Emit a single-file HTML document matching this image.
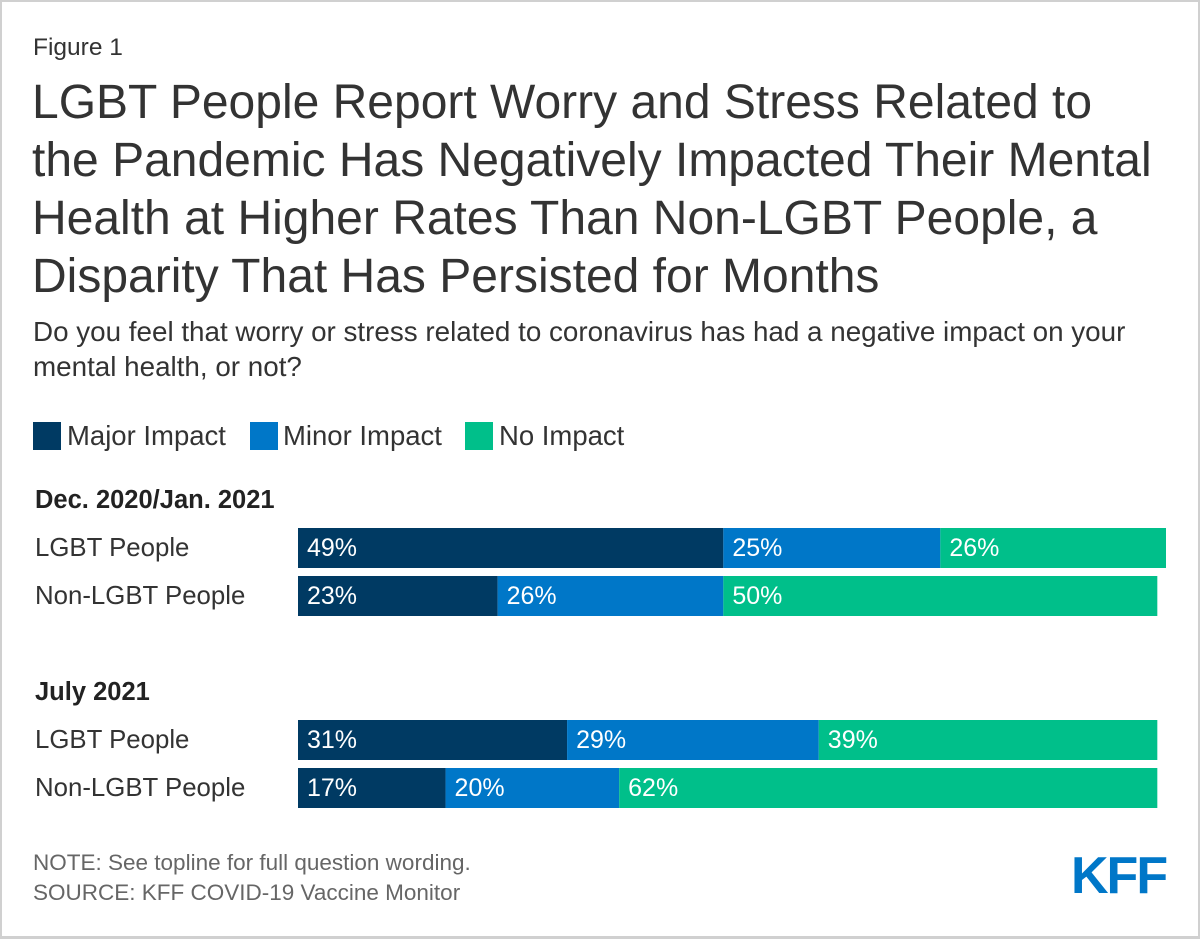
<!DOCTYPE html>
<html><head><meta charset="utf-8"><style>
body{margin:0;width:1200px;height:938px;overflow:hidden;background:#fff;font-family:"Liberation Sans",Arial,sans-serif;color:#333}
.frame{position:absolute;left:0;top:0;width:1196px;height:934px;border:2px solid #d0d0d0;border-right-width:3px;border-bottom-width:3px;box-sizing:content-box}
.t{position:absolute;white-space:nowrap}
.sq{position:absolute;width:28px;height:28px}
</style></head><body>
<div class="frame"></div>
<div class="t" style="left:33px;top:34px;font-size:24.5px">Figure 1</div>
<div class="t" style="left:32px;top:74px;font-size:48px;line-height:58px;color:#333">LGBT People Report Worry and Stress Related to<br>the Pandemic Has Negatively Impacted Their Mental<br>Health at Higher Rates Than Non-LGBT People, a<br>Disparity That Has Persisted for Months</div>
<div class="t" style="left:33px;top:314px;font-size:27.8px;line-height:35px">Do you feel that worry or stress related to coronavirus has had a negative impact on your<br>mental health, or not?</div>
<div>
<div class="sq" style="left:33px;top:422px;background:#003a63"></div>
<div class="t" style="left:67px;top:420px;font-size:27.5px">Major Impact</div>
<div class="sq" style="left:250px;top:422px;background:#0077c8"></div>
<div class="t" style="left:283px;top:420px;font-size:27.5px">Minor Impact</div>
<div class="sq" style="left:465px;top:422px;background:#00bf8a"></div>
<div class="t" style="left:499px;top:420px;font-size:27.5px">No Impact</div>
</div>
<svg id="chart" width="1200" height="938" style="position:absolute;left:0;top:0"></svg>
<div class="t" style="left:33px;top:848px;font-size:22.5px;line-height:30px;color:#666">NOTE: See topline for full question wording.<br>SOURCE: KFF COVID-19 Vaccine Monitor</div>
<div class="t" style="left:1071px;top:846px;font-size:52px;font-weight:bold;color:#0077c8;letter-spacing:-2px">KFF</div>
<script>
const groups=["Dec. 2020/Jan. 2021","July 2021"];
const rowLabels=["LGBT People","Non-LGBT People","LGBT People","Non-LGBT People"];
const major=[49,23,31,17];
const minor=[25,26,29,20];
const none=[26,50,39,62];
const colors=["#003a63","#0077c8","#00bf8a"];
const svg=document.getElementById('chart');
const NS="http://www.w3.org/2000/svg";
const x0=298,scale=8.68;
const xs=v=>x0+v*scale;
const rowY=[528,576,720,768],barH=40,groupY=[500,692];
groups.forEach((g,i)=>{
 const t=document.createElementNS(NS,'text');
 t.setAttribute('x',35);t.setAttribute('y',groupY[i]+8);
 t.setAttribute('font-size','25.5');t.setAttribute('font-weight','bold');t.setAttribute('fill','#222');
 t.setAttribute('font-family','Liberation Sans, Arial, sans-serif');
 t.textContent=g;
 
 
 svg.appendChild(t);
});
rowLabels.forEach((l,i)=>{
 const t=document.createElementNS(NS,'text');
 t.setAttribute('x',35);t.setAttribute('y',rowY[i]+28);
 t.setAttribute('font-size','25.8');t.setAttribute('fill','#333');
 t.setAttribute('font-family','Liberation Sans, Arial, sans-serif');
 t.textContent=l;
 
 
 svg.appendChild(t);
 const vals=[major[i],minor[i],none[i]];
 let acc=0;
 vals.forEach((v,k)=>{
  const r=document.createElementNS(NS,'rect');
  r.setAttribute('x',xs(acc));r.setAttribute('y',rowY[i]);
  r.setAttribute('width',xs(acc+v)-xs(acc));r.setAttribute('height',barH);
  r.setAttribute('fill',colors[k]);
  
  
  svg.appendChild(r);
  const tx=document.createElementNS(NS,'text');
  tx.setAttribute('x',xs(acc)+9);tx.setAttribute('y',rowY[i]+28);
  tx.setAttribute('font-size','25');tx.setAttribute('fill','#fff');
  tx.setAttribute('font-family','Liberation Sans, Arial, sans-serif');
  tx.textContent=v+'%';
  
  
  svg.appendChild(tx);
  acc+=v;
 });
});
</script>
</body></html>
